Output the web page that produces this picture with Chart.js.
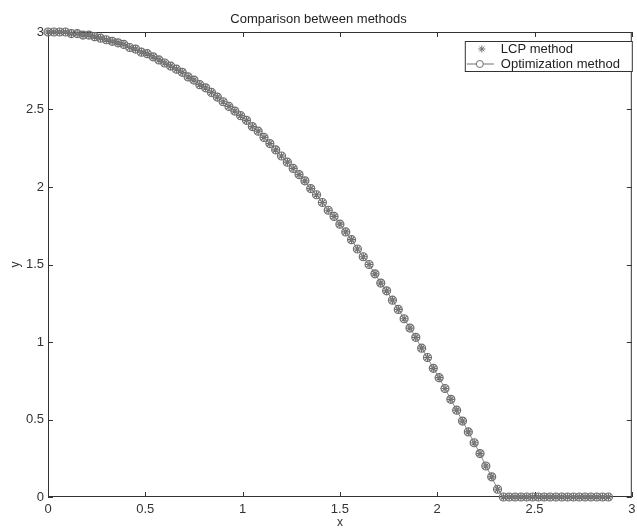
<!DOCTYPE html>
<html>
<head>
<meta charset="utf-8">
<script src="https://cdn.jsdelivr.net/npm/chart.js@4/dist/chart.umd.min.js"></script>
<style>
  body { margin: 0; background: #fff; }
  canvas { display: block; }
</style>
</head>
<body>
<canvas id="myChart" width="637" height="531"></canvas>
<script>
    // Dados
    const xValues = [
      0, 0.03, 0.06, 0.09, 0.12, 0.15, 0.18, 0.21, 0.24, 0.27,
      0.30, 0.33, 0.36, 0.39, 0.42, 0.45, 0.48, 0.51, 0.54, 0.57,
      0.60, 0.63, 0.66, 0.69, 0.72, 0.75, 0.78, 0.81, 0.84, 0.87,
      0.90, 0.93, 0.96, 0.99, 1.02, 1.05, 1.08, 1.11, 1.14, 1.17,
      1.20, 1.23, 1.26, 1.29, 1.32, 1.35, 1.38, 1.41, 1.44, 1.47,
      1.50, 1.53, 1.56, 1.59, 1.62, 1.65, 1.68, 1.71, 1.74, 1.77,
      1.80, 1.83, 1.86, 1.89, 1.92, 1.95, 1.98, 2.01, 2.04, 2.07,
      2.10, 2.13, 2.16, 2.19, 2.22, 2.25, 2.28, 2.31, 2.34, 2.37,
      2.40, 2.43, 2.46, 2.49, 2.52, 2.55, 2.58, 2.61, 2.64, 2.67,
      2.70, 2.73, 2.76, 2.79, 2.82, 2.85, 2.88
    ];
    const lcpValues = [
      3.00, 3.00, 3.00, 3.00, 2.99, 2.99, 2.98, 2.98, 2.97, 2.96,
      2.95, 2.94, 2.93, 2.92, 2.90, 2.89, 2.87, 2.86, 2.84, 2.82,
      2.80, 2.78, 2.76, 2.74, 2.71, 2.69, 2.66, 2.64, 2.61, 2.58,
      2.55, 2.52, 2.49, 2.46, 2.43, 2.39, 2.36, 2.32, 2.28, 2.24,
      2.20, 2.16, 2.12, 2.08, 2.04, 1.99, 1.95, 1.90, 1.85, 1.81,
      1.76, 1.71, 1.66, 1.60, 1.55, 1.50, 1.44, 1.38, 1.33, 1.27,
      1.21, 1.15, 1.09, 1.03, 0.96, 0.90, 0.83, 0.77, 0.70, 0.63,
      0.56, 0.49, 0.42, 0.35, 0.28, 0.20, 0.13, 0.05, 0, 0,
      0, 0, 0, 0, 0, 0, 0, 0, 0, 0,
      0, 0, 0, 0, 0, 0, 0
    ];
    // os dois métodos coincidem na escala do gráfico
    const optValues = lcpValues.slice();

    const xTicks = [0, 0.5, 1, 1.5, 2, 2.5, 3];
    const yTicks = [0, 0.5, 1, 1.5, 2, 2.5, 3];
    const seriesNames = ["LCP method", "Optimization method"];

    const fontFamily = "'Liberation Sans', Arial, Helvetica, sans-serif";
    const axisColor = "#333";
    const markColor = "#6e6e6e";

    function toPoints(ys) {
      return xValues.map((x, i) => ({ x: x, y: ys[i] }));
    }

    // Moldura estilo MATLAB com ticks para dentro
    const framePlugin = {
      id: "frame",
      beforeDatasetsDraw(chart) {
        const { ctx, chartArea: a, scales } = chart;
        const tl = 5;
        ctx.save();
        ctx.strokeStyle = axisColor;
        ctx.lineWidth = 1;
        ctx.strokeRect(a.left + 0.5, a.top + 0.5, a.right - a.left - 1, a.bottom - a.top - 1);
        ctx.beginPath();
        xTicks.forEach(v => {
          const px = Math.round(scales.x.getPixelForValue(v)) + 0.5;
          ctx.moveTo(px, a.bottom); ctx.lineTo(px, a.bottom - tl);
          ctx.moveTo(px, a.top); ctx.lineTo(px, a.top + tl);
        });
        yTicks.forEach(v => {
          const py = Math.round(scales.y.getPixelForValue(v)) + 0.5;
          ctx.moveTo(a.left, py); ctx.lineTo(a.left + tl, py);
          ctx.moveTo(a.right, py); ctx.lineTo(a.right - tl, py);
        });
        ctx.stroke();
        ctx.restore();
      }
    };

    function drawStar(ctx, x, y, r) {
      ctx.beginPath();
      for (let k = 0; k < 4; k++) {
        const ang = k * Math.PI / 4;
        ctx.moveTo(x - r * Math.cos(ang), y - r * Math.sin(ang));
        ctx.lineTo(x + r * Math.cos(ang), y + r * Math.sin(ang));
      }
      ctx.stroke();
    }

    // Legenda com caixa dentro da área do gráfico
    const legendPlugin = {
      id: "boxLegend",
      afterDraw(chart) {
        const { ctx, chartArea: a } = chart;
        const w = 168, h = 31;
        const left = a.right - w + 1, top = a.top + 9;
        ctx.save();
        ctx.fillStyle = "#fff";
        ctx.fillRect(left, top, w, h);
        ctx.strokeStyle = axisColor;
        ctx.lineWidth = 1;
        ctx.strokeRect(left + 0.5, top + 0.5, w - 1, h - 1);

        const y1 = top + 8, y2 = top + 23;
        ctx.strokeStyle = markColor;
        drawStar(ctx, left + 17, y1, 3.5);
        ctx.beginPath();
        ctx.moveTo(left + 2, y2); ctx.lineTo(left + 29, y2);
        ctx.stroke();
        ctx.beginPath();
        ctx.arc(left + 15, y2, 3.5, 0, Math.PI * 2);
        ctx.fillStyle = "#fff";
        ctx.fill();
        ctx.stroke();

        ctx.fillStyle = "#222";
        ctx.font = "13px " + fontFamily;
        ctx.textBaseline = "middle";
        ctx.textAlign = "left";
        ctx.fillText(seriesNames[0], left + 36, y1);
        ctx.fillText(seriesNames[1], left + 36, y2);
        ctx.restore();
      }
    };

    const ctx = document.getElementById("myChart").getContext("2d");
    new Chart(ctx, {
      type: "scatter",
      data: {
        datasets: [{
          label: seriesNames[1],
          data: toPoints(optValues),
          showLine: true,
          borderColor: "#888",
          borderWidth: 1,
          pointStyle: "circle",
          pointRadius: 4,
          pointBorderColor: markColor,
          pointBackgroundColor: "rgba(255,255,255,0)",
          pointBorderWidth: 1.2,
          clip: false
        }, {
          label: seriesNames[0],
          data: toPoints(lcpValues),
          showLine: false,
          pointStyle: "star",
          pointRadius: 3.8,
          pointBorderColor: markColor,
          pointBorderWidth: 1.2,
          clip: false
        }]
      },
      options: {
        responsive: false,
        animation: false,
        layout: { padding: { left: 0, right: 0, top: 0, bottom: 0 } },
        plugins: {
          legend: { display: false },
          tooltip: { enabled: false },
          title: {
            display: true,
            text: "Comparison between methods",
            color: "#222",
            font: { family: fontFamily, size: 13, weight: "normal" },
            padding: { top: 12, bottom: 4.4 }
          }
        },
        scales: {
          x: {
            type: "linear",
            min: 0,
            max: 3,
            grid: { display: false, drawTicks: false },
            border: { display: false },
            afterBuildTicks: s => { s.ticks = xTicks.map(v => ({ value: v })); },
            afterFit: s => { s.height = 34; s.paddingRight = 4; },
            ticks: {
              color: axisColor,
              padding: 5,
              maxRotation: 0,
              font: { family: fontFamily, size: 13 },
              callback: v => String(v)
            },
            title: {
              display: true,
              text: "x",
              color: axisColor,
              font: { family: fontFamily, size: 12 },
              padding: { top: 0, bottom: 1 }
            }
          },
          y: {
            type: "linear",
            min: 0,
            max: 3,
            grid: { display: false, drawTicks: false },
            border: { display: false },
            afterBuildTicks: s => { s.ticks = yTicks.map(v => ({ value: v })); },
            afterFit: s => { s.width = 48; },
            ticks: {
              color: axisColor,
              padding: 4,
              font: { family: fontFamily, size: 13 },
              callback: v => String(v)
            },
            title: {
              display: true,
              text: "y",
              color: axisColor,
              font: { family: fontFamily, size: 12 },
              padding: { top: 8, bottom: 0 }
            }
          }
        }
      },
      plugins: [framePlugin, legendPlugin]
    });
</script>
</body>
</html>
